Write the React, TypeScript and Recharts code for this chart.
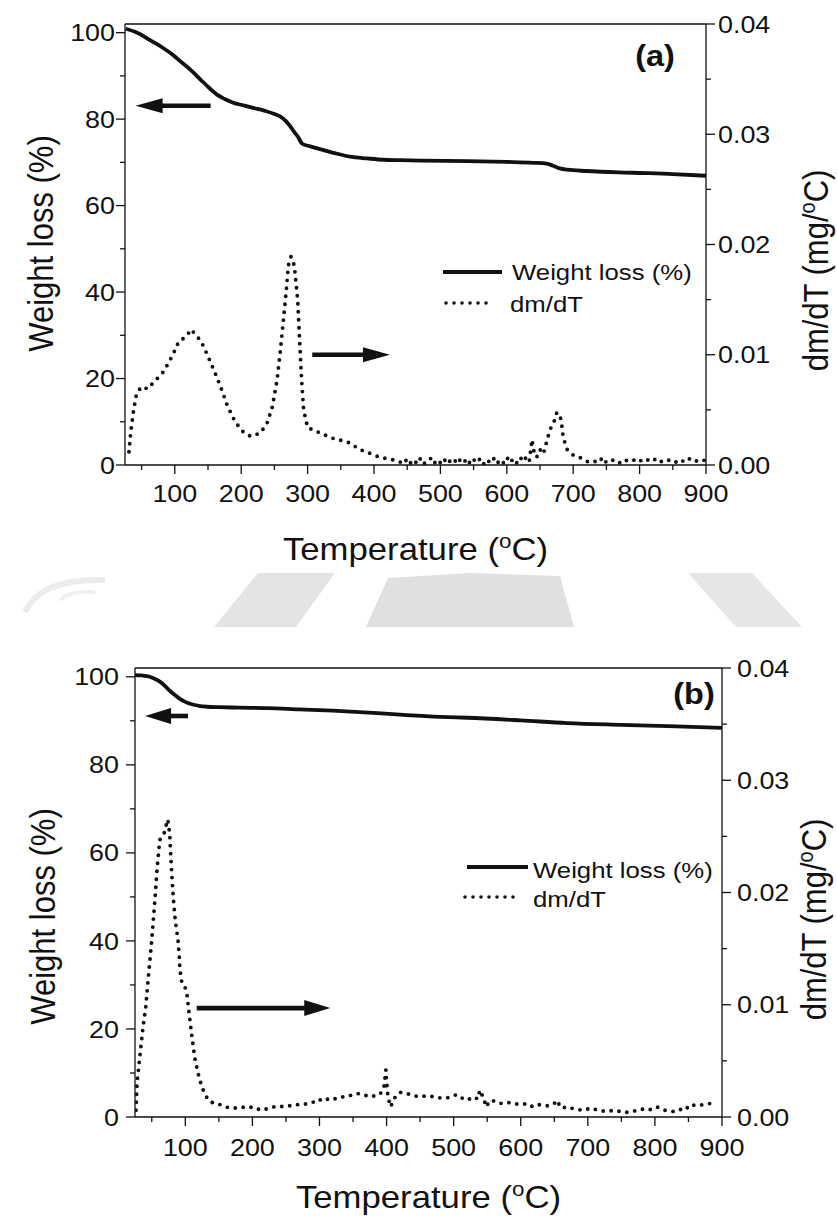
import React from 'react';
import { ComposedChart, Line, XAxis, YAxis, ReferenceLine, Legend } from 'recharts';

const INK = '#111';
const FONT = '"Liberation Sans", Arial, Helvetica, sans-serif';
const SX = 1.12;

const X_TICKS = [50, 100, 150, 200, 250, 300, 350, 400, 450, 500, 550, 600, 650, 700, 750, 800, 850, 900];
const W_TICKS = [0, 10, 20, 30, 40, 50, 60, 70, 80, 90, 100];
const D_TICKS = [0, 0.005, 0.01, 0.015, 0.02, 0.025, 0.03, 0.035, 0.04];
const SERIES_NAMES = ['Weight loss (%)', 'dm/dT'];

// ---------- Panel (a) ----------
const A_W_TEMP = [26, 40, 53, 60, 79, 95, 109, 125, 139, 152, 164, 176, 188, 203, 218, 236, 250, 259, 267, 274, 280, 285, 292, 304, 320, 339, 364, 390, 414, 440, 470, 540, 600, 640, 660, 670, 680, 691, 720, 790, 850, 900];
const A_W_VAL = [100.9, 100.2, 99.2, 98.5, 96.8, 95.1, 93.3, 91.2, 89.1, 87.2, 85.6, 84.6, 83.8, 83.2, 82.6, 81.9, 81.2, 80.6, 79.6, 78.3, 77.0, 76.0, 74.3, 73.7, 73.0, 72.2, 71.3, 70.9, 70.6, 70.5, 70.4, 70.3, 70.1, 69.9, 69.7, 69.2, 68.6, 68.3, 68.0, 67.6, 67.3, 66.9];
const A_D_TEMP = [31, 33.5, 38, 42.5, 50, 59, 68, 81, 89, 97, 106, 116, 125, 131, 139, 149, 161, 169, 179, 191, 203, 214, 229, 239, 247, 254, 259, 264, 268, 271, 275, 280, 285, 288, 291, 294, 300, 319, 339, 360, 379, 409, 435,
  445, 450, 455, 460, 465, 470, 475, 480, 485, 490, 495, 500, 505, 510, 515, 520, 525, 530, 535, 540, 545, 550, 555, 560, 565, 570, 575, 580, 585, 590, 595, 600, 605, 610, 615, 620, 625, 630, 634, 638, 640, 645, 650, 655, 660, 665, 671, 675, 679, 682, 685, 691, 700, 707, 715, 722, 730, 737, 745, 750, 755, 762, 770, 777, 784, 790, 797, 804, 811, 818, 825, 832, 839, 846, 853, 860, 867, 874, 881, 888, 895, 900];
const A_D_VAL = [0.0012, 0.0029, 0.005, 0.0065, 0.0071, 0.0069, 0.0075, 0.0083, 0.0091, 0.01, 0.0112, 0.0116, 0.0123, 0.0118, 0.0113, 0.01, 0.0083, 0.0071, 0.0054, 0.0039, 0.003, 0.0026, 0.0029, 0.0038, 0.0053, 0.0077, 0.0104, 0.0134, 0.0159, 0.0181, 0.0189, 0.0181, 0.015, 0.0113, 0.0077, 0.005, 0.0034, 0.0029, 0.0024, 0.0021, 0.0014, 0.0007, 0.0004,
  0.0001, 0.0006, 0.0002, 0.0005, 0.0001, 0.0006, 0.0001, 0.0004, 0.0006, 0.0001, 0.0005, 0.0002, 0.0006, 0.0001, 0.0004, 0.0006, 0.0001, 0.0005, 0.0002, 0.0006, 0.0001, 0.0005, 0.0002, 0.0006, 0.0001, 0.0005, 0.0002, 0.0006, 0.0001, 0.0005, 0.0002, 0.0007, 0.0002, 0.0006, 0.0002, 0.0007, 0.0003, 0.0008, 0.0004, 0.0023, 0.0014, 0.0007, 0.0014, 0.001, 0.0021, 0.0032, 0.0039, 0.0047, 0.0047, 0.004, 0.0025, 0.0014, 0.0009, 0.0008, 0.0005, 0.0003, 0.0004, 0.0002, 0.0007, 0.0002, 0.0003, 0.0005, 0.0002, 0.0005, 0.0003, 0.0004, 0.0006, 0.0003, 0.0005, 0.0003, 0.0006, 0.0003, 0.0005, 0.0004, 0.0002, 0.0005, 0.0003, 0.0006, 0.0003, 0.0004, 0.0005, 0.0003];

// ---------- Panel (b) ----------
const B_W_TEMP = [25, 35, 47, 55, 62, 70, 77, 85, 92, 100, 111, 122, 132, 150, 180, 222, 270, 320, 380, 430, 480, 520, 600, 669, 750, 820, 900];
const B_W_VAL = [100.4, 100.3, 100.0, 99.5, 98.9, 97.9, 96.8, 95.8, 95.0, 94.3, 93.7, 93.35, 93.2, 93.1, 93.0, 92.9, 92.6, 92.3, 91.8, 91.3, 90.9, 90.7, 90.1, 89.5, 89.1, 88.8, 88.4];
const B_D_TEMP = [26.5, 28, 32, 37, 41, 44.5, 49, 52, 55, 58, 62, 66, 70, 73, 75, 77, 79, 81, 82, 85, 89, 91, 92, 95, 99.5, 102.5, 105.5, 110, 114, 119, 125, 134, 143, 152, 160, 167, 175, 183, 192, 200, 208, 216, 224, 232, 241, 250, 258, 266, 274, 282, 290, 298, 306, 316, 325, 335, 345, 356, 365, 375, 383, 390, 396, 399, 400, 402, 406, 412, 420, 430, 440, 450, 460, 470, 480, 490, 505, 512, 520, 530, 536, 539, 542, 545, 548, 555, 562, 569, 580, 590, 600, 610, 618, 628, 640, 650, 654, 660, 670, 680, 693, 705, 715, 728, 740, 755, 767, 780, 790, 803, 815, 827, 835, 845, 852, 862, 872, 882, 885];
const B_D_VAL = [0.0006, 0.003, 0.0053, 0.008, 0.0098, 0.0122, 0.0151, 0.0173, 0.0196, 0.0222, 0.0247, 0.025, 0.0255, 0.0265, 0.0262, 0.0249, 0.0225, 0.0205, 0.0196, 0.0175, 0.0158, 0.0143, 0.0131, 0.0119, 0.0116, 0.0109, 0.0093, 0.0071, 0.0053, 0.0039, 0.0026, 0.0015, 0.0012, 0.0011, 0.0009, 0.0008, 0.0008, 0.0009, 0.0008, 0.0009, 0.0007, 0.0006, 0.0008, 0.0009, 0.0009, 0.001, 0.001, 0.0011, 0.0011, 0.0012, 0.0013, 0.0016, 0.0014, 0.0017, 0.0016, 0.0018, 0.0019, 0.0021, 0.002, 0.0018, 0.0019, 0.002, 0.0026, 0.0042, 0.0033, 0.0018, 0.0009, 0.0017, 0.0022, 0.0021, 0.0019, 0.0018, 0.0019, 0.0018, 0.0017, 0.0017, 0.002, 0.0017, 0.0015, 0.0018, 0.0016, 0.0024, 0.002, 0.0017, 0.0009, 0.0015, 0.0014, 0.0012, 0.0013, 0.0012, 0.0011, 0.0012, 0.0009, 0.0011, 0.001, 0.0012, 0.0015, 0.0008, 0.0009, 0.0007, 0.0006, 0.0008, 0.0006, 0.0005, 0.0006, 0.0004, 0.0005, 0.0007, 0.0006, 0.0009, 0.0006, 0.0005, 0.0007, 0.0006, 0.0011, 0.001, 0.0011, 0.0012, 0.0013];

// arrows: [tailT, headT, value, axis]
const A_ARROWS: [number, number, number, string][] = [[154, 41, 83.1, 'left'], [307, 424, 0.01, 'right']];
const B_ARROWS: [number, number, number, string][] = [[104, 40, 91.1, 'left'], [117, 316, 0.0097, 'right']];

const zip = (t: number[], v: number[], key: string) => t.map((x, i) => ({ t: x, [key]: v[i] }));

const arrowShape = (hl: number, hw: number) => (props: any) => {
  const { x1, y1, x2, y2 } = props;
  const dx = x2 - x1;
  const dy = y2 - y1;
  const len = Math.hypot(dx, dy) || 1;
  const ux = dx / len;
  const uy = dy / len;
  const bx = x2 - ux * hl;
  const by = y2 - uy * hl;
  return (
    <g>
      <line x1={x1} y1={y1} x2={bx + ux * 2} y2={by + uy * 2} stroke={INK} strokeWidth={4.6} />
      <polygon points={`${x2},${y2} ${bx - uy * hw},${by + ux * hw} ${bx + uy * hw},${by - ux * hw}`} fill={INK} />
    </g>
  );
};

function Panel({ cfg }: { cfg: any }) {
  const wData = zip(cfg.wT, cfg.wV, 'w');
  const dData = zip(cfg.dT, cfg.dV, 'd');

  const xTick = (props: any) => {
    const { x, y, payload } = props;
    const v = payload.value as number;
    const major = v % 100 === 0;
    return (
      <g>
        <line x1={x} x2={x} y1={y} y2={y + (major ? 9 : 5)} stroke={INK} strokeWidth={1.3} />
        {major && (
          <text transform={`translate(${x},${y + cfg.xTickDy}) scale(${SX},1)`} textAnchor="middle" fontSize={24} fontFamily={FONT} fill={INK}>
            {v}
          </text>
        )}
      </g>
    );
  };
  const lTick = (props: any) => {
    const { x, y, payload } = props;
    const v = payload.value as number;
    const major = v % 20 === 0;
    return (
      <g>
        <line x1={x} x2={x - (major ? 9 : 5)} y1={y} y2={y} stroke={INK} strokeWidth={1.3} />
        {major && (
          <text transform={`translate(${x - cfg.lGap},${y + 8.6}) scale(${SX},1)`} textAnchor="end" fontSize={24} fontFamily={FONT} fill={INK}>
            {v}
          </text>
        )}
      </g>
    );
  };
  const rTick = (props: any) => {
    const { x, y, payload } = props;
    const v = payload.value as number;
    const major = Math.abs(v * 100 - Math.round(v * 100)) < 1e-9;
    return (
      <g>
        <line x1={x} x2={x + (major ? 9 : 5)} y1={y} y2={y} stroke={INK} strokeWidth={1.3} />
        {major && (
          <text transform={`translate(${x + cfg.rGap},${y + 8.6}) scale(${SX},1)`} textAnchor="start" fontSize={24} fontFamily={FONT} fill={INK}>
            {v.toFixed(2)}
          </text>
        )}
      </g>
    );
  };

  const xLabel = (p: any) => {
    const vb = p.viewBox || {};
    return (
      <text transform={`translate(${vb.x + vb.width / 2},${vb.y + cfg.xTitleDy}) scale(${SX},1)`} textAnchor="middle" fontSize={31} fontFamily={FONT} fill={INK}>
        Temperature (
        <tspan fontSize={20} dy={-12}>o</tspan>
        <tspan dy={12}>C)</tspan>
      </text>
    );
  };
  const lLabel = (p: any) => {
    const vb = p.viewBox || {};
    return (
      <text transform={`translate(${vb.x + cfg.lTitleX},${vb.y + vb.height / 2 + cfg.lTitleDy}) scale(${SX},1) rotate(-90)`} textAnchor="middle" fontSize={31} fontFamily={FONT} fill={INK}>
        Weight loss (%)
      </text>
    );
  };
  const rLabel = (p: any) => {
    const vb = p.viewBox || {};
    return (
      <text transform={`translate(${vb.x + cfg.rTitleX},${vb.y + vb.height / 2 + cfg.rTitleDy}) scale(${SX},1) rotate(-90)`} textAnchor="middle" fontSize={31} fontFamily={FONT} fill={INK}>
        dm/dT (mg/
        <tspan fontSize={20} dy={-12}>o</tspan>
        <tspan dy={12}>C)</tspan>
      </text>
    );
  };
  const letter = (p: any) => {
    const vb = p.viewBox || {};
    return (
      <text transform={`translate(${vb.x + vb.width - cfg.letterDx},${vb.y + cfg.letterDy}) scale(${SX},1)`} textAnchor="middle" fontSize={29} fontWeight="bold" fontFamily={FONT} fill={INK}>
        {cfg.letter}
      </text>
    );
  };

  const lg = cfg.legend;
  const legendContent = () => (
    <svg width={300} height={70} style={{ display: 'block', overflow: 'visible' }}>
      <line x1={lg.solid[0]} x2={lg.solid[1]} y1={lg.solidY} y2={lg.solidY} stroke={INK} strokeWidth={4} />
      <text transform={`translate(${lg.textX},${lg.base1}) scale(${SX},1)`} fontSize={23} fontFamily={FONT} fill={INK}>
        {SERIES_NAMES[0]}
      </text>
      <line x1={lg.dot[0]} x2={lg.dot[1]} y1={lg.dotY} y2={lg.dotY} stroke={INK} strokeWidth={3.6} strokeDasharray="0 8" strokeLinecap="round" />
      <text transform={`translate(${lg.textX2},${lg.base2}) scale(${SX},1)`} fontSize={23} fontFamily={FONT} fill={INK}>
        {SERIES_NAMES[1]}
      </text>
    </svg>
  );

  return (
    <div style={{ position: 'absolute', left: 0, top: cfg.top, width: 837, height: cfg.height, zIndex: 1 }}>
      <ComposedChart width={837} height={cfg.height} margin={{ top: cfg.plotTop, right: 0, bottom: 0, left: 0 }}>
        <XAxis
          xAxisId="x"
          dataKey="t"
          type="number"
          domain={[25, 900]}
          allowDataOverflow
          ticks={X_TICKS}
          interval={0}
          tickSize={0}
          tickMargin={0}
          tickLine={false}
          axisLine={{ stroke: INK, strokeWidth: 1.3 }}
          height={cfg.xAxisH}
          tick={xTick}
          label={xLabel}
        />
        <YAxis
          yAxisId="left"
          orientation="left"
          type="number"
          domain={[0, 102]}
          allowDataOverflow
          ticks={W_TICKS}
          interval={0}
          tickSize={0}
          tickMargin={0}
          tickLine={false}
          axisLine={{ stroke: INK, strokeWidth: 1.3 }}
          width={cfg.leftW}
          tick={lTick}
          label={lLabel}
        />
        <YAxis
          yAxisId="right"
          orientation="right"
          type="number"
          domain={[0, 0.04]}
          allowDataOverflow
          ticks={D_TICKS}
          interval={0}
          tickSize={0}
          tickMargin={0}
          tickLine={false}
          axisLine={{ stroke: INK, strokeWidth: 1.3 }}
          width={cfg.rightW}
          tick={rTick}
          label={rLabel}
        />
        <ReferenceLine xAxisId="x" yAxisId="left" y={102} stroke={INK} strokeWidth={1.3} ifOverflow="visible" label={letter} />
        <Line
          xAxisId="x"
          yAxisId="left"
          data={wData}
          dataKey="w"
          name={SERIES_NAMES[0]}
          type="monotone"
          stroke={INK}
          strokeWidth={3.8}
          strokeLinejoin="round"
          dot={false}
          activeDot={false}
          isAnimationActive={false}
        />
        <Line
          xAxisId="x"
          yAxisId="right"
          data={dData}
          dataKey="d"
          name={SERIES_NAMES[1]}
          type="linear"
          stroke={INK}
          strokeWidth={3.9}
          strokeDasharray="0 8"
          strokeLinecap="round"
          dot={false}
          activeDot={false}
          isAnimationActive={false}
        />
        {cfg.arrows.map((a: [number, number, number, string], i: number) => (
          <ReferenceLine
            key={i}
            xAxisId="x"
            yAxisId={a[3]}
            segment={[{ x: a[0], y: a[2] }, { x: a[1], y: a[2] }]}
            ifOverflow="visible"
            shape={arrowShape(cfg.headLen, cfg.headHalf)}
          />
        ))}
        <Legend
          layout="horizontal"
          align="center"
          verticalAlign="middle"
          content={legendContent}
          wrapperStyle={{ left: lg.left, top: lg.top, width: 300, height: 70 }}
        />
      </ComposedChart>
    </div>
  );
}

const CFG_A = {
  top: 0,
  height: 600,
  plotTop: 24,
  xAxisH: 135,
  leftW: 125,
  rightW: 131,
  xTickDy: 37,
  lGap: 10,
  rGap: 12,
  xTitleDy: 95,
  lTitleX: 53,
  lTitleDy: -1,
  rTitleX: 122,
  rTitleDy: 26,
  letter: '(a)',
  letterDx: 51,
  letterDy: 42,
  wT: A_W_TEMP,
  wV: A_W_VAL,
  dT: A_D_TEMP,
  dV: A_D_VAL,
  arrows: A_ARROWS,
  headLen: 27,
  headHalf: 7.5,
  legend: { left: 443, top: 255, solid: [0, 59], solidY: 17, textX: 69, base1: 25, dot: [3, 51], dotY: 48, textX2: 67, base2: 57 },
};

const CFG_B = {
  top: 620,
  height: 598,
  plotTop: 48,
  xAxisH: 101,
  leftW: 135,
  rightW: 115,
  xTickDy: 39,
  lGap: 16,
  rGap: 15,
  xTitleDy: 91,
  lTitleX: 55,
  lTitleDy: 24,
  rTitleX: 104,
  rTitleDy: 27,
  letter: '(b)',
  letterDx: 28,
  letterDy: 36,
  wT: B_W_TEMP,
  wV: B_W_VAL,
  dT: B_D_TEMP,
  dV: B_D_VAL,
  arrows: B_ARROWS,
  headLen: 26,
  headHalf: 8,
  legend: { left: 465, top: 230, solid: [2, 63], solidY: 17, textX: 68, base1: 28, dot: [0, 50], dotY: 47, textX2: 68, base2: 57 },
};

function Watermark() {
  return (
    <svg width={837} height={1218} style={{ position: 'absolute', left: 0, top: 0, zIndex: 0 }}>
      <path d="M 25 612 Q 40 578 105 580" fill="none" stroke="#ececec" strokeWidth={6} />
      <path d="M 60 600 Q 70 590 95 592" fill="none" stroke="#f0f0f0" strokeWidth={4} />
      <polygon points="258,573 335,573 296,627 214,627" fill="#e4e4e4" />
      <polygon points="388,578 470,573 560,576 574,627 366,627" fill="#e0e0e0" />
      <polygon points="688,573 752,573 802,627 736,627" fill="#e6e6e6" />
    </svg>
  );
}

export default function App() {
  return (
    <div style={{ position: 'absolute', left: 0, top: 0, width: 837, height: 1218, background: '#fff', fontFamily: FONT }}>
      <Watermark />
      <Panel cfg={CFG_A} />
      <Panel cfg={CFG_B} />
    </div>
  );
}
